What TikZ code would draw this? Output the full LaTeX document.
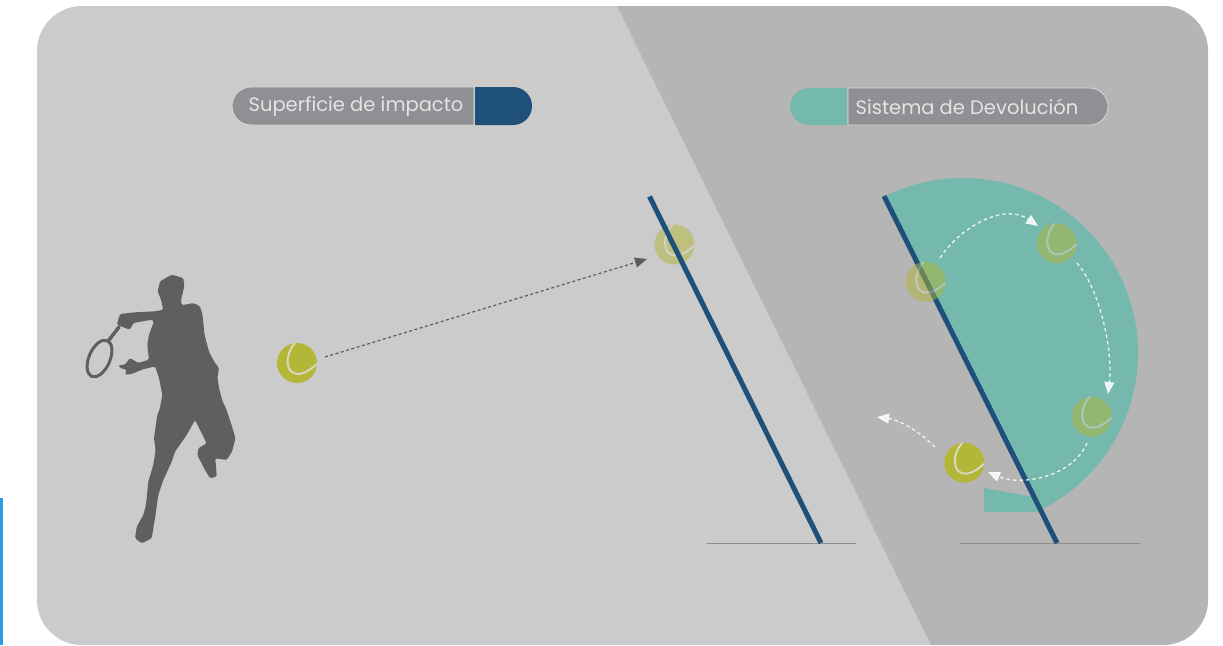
\documentclass[tikz,border=0pt]{standalone}
\usepackage{fontspec}
\setmainfont{Poppins}
\usetikzlibrary{arrows.meta}
\definecolor{bglight}{HTML}{CBCBCB}
\definecolor{bgdark}{HTML}{B5B5B5}
\definecolor{pillgray}{HTML}{8F9094}
\definecolor{pillrim}{HTML}{D9D9D9}
\definecolor{legendtext}{HTML}{E4E4E4}
\definecolor{navy}{HTML}{1E5079}
\definecolor{tealc}{HTML}{74B8AE}
\definecolor{ballc}{HTML}{B3B636}
\definecolor{seamc}{HTML}{D8DAC4}
\definecolor{playerc}{HTML}{5F5E60}
\definecolor{groundc}{HTML}{8D8D8D}
\definecolor{dashc}{HTML}{5C5C5C}
\definecolor{sidebar}{HTML}{2A9DE0}
\tikzset{
  pilltext/.style={font=\fontsize{19.5}{21}\selectfont, text=legendtext, inner sep=0pt},
  wall/.style={draw=navy, line width=5pt},
  groundline/.style={draw=groundc, line width=1.2pt},
  flight/.style={draw=dashc, line width=1.2pt, dash pattern=on 3pt off 2.5pt,
    -{Triangle[length=12pt,width=10pt]}},
  returnpath/.style={draw=white, opacity=0.85, line width=1.3pt,
    dash pattern=on 3.5pt off 3pt, -{Triangle[length=12pt,width=10pt]}},
  pics/tennisball/.style={code={
    \fill[ballc] (0,0) circle[radius=20];
    \draw[seamc, line width=1.9pt] (-2,-19.9) .. controls (-13,-8) and (-12,12) .. (2,11)
      .. controls (10,10) and (15,5) .. (19.9,1);
  }}
}
\begin{document}
\begin{tikzpicture}[x=1pt,y=-1pt]
\useasboundingbox (0,0) rectangle (1223,645);
\fill[white] (0,0) rectangle (1223,645);

% side bar
\fill[sidebar] (0,498) rectangle (3,645);

% panel with the two shaded halves
\begin{scope}
  \clip[rounded corners=45pt] (37,6) rectangle (1208,645);
  \fill[bglight] (37,6) rectangle (1208,645);
  \fill[bgdark] (614,0) -- (1223,0) -- (1223,645) -- (931,645) -- cycle;
\end{scope}

% legends
\fill[pillgray, rounded corners=19pt] (474,87) -- (232,87) -- (232,125) [sharp corners] -- (474,125) -- cycle;
\draw[pillrim, line width=0.8pt, rounded corners=19pt] (474,87) -- (232,87) -- (232,125) [sharp corners] -- (474,125) -- cycle;
\fill[navy, rounded corners=19pt] (475,87) -- (532,87) -- (532,125) [sharp corners] -- (475,125) -- cycle;
\node[pilltext] (lblimpact) at (356,107) {Superficie de impacto};

\fill[tealc, rounded corners=19pt] (847,88) -- (790,88) -- (790,125) [sharp corners] -- (847,125) -- cycle;
\fill[pillgray, rounded corners=18.5pt] (848,88) -- (1108,88) -- (1108,125) [sharp corners] -- (848,125) -- cycle;
\draw[pillrim, line width=0.8pt, rounded corners=18.5pt] (848,88) -- (1108,88) -- (1108,125) [sharp corners] -- (848,125) -- cycle;
\node[pilltext] (lblreturn) at (967,107) {Sistema de Devolución};

% player silhouette
\fill[playerc, rounded corners=1.5pt]
  (171.7,274.7) -- (183.3,278) -- (184.3,286.3) -- (181,299.7) -- (181.7,305.3)
  -- (193.3,303) -- (200,306.3) -- (202.5,314.7) -- (204.5,334.7) -- (209,351.7)
  -- (214,361.3) -- (219,368) -- (217.5,378) -- (219,388) -- (222.5,401.3)
  -- (226,408.3) -- (231,423.3) -- (235.5,438.3) -- (232,451.7) -- (226.7,460)
  -- (215,458.3) -- (216,465) -- (216.7,476.7) -- (210,478.3) -- (205,470)
  -- (197.3,455) -- (198.3,448.3) -- (206.7,443.3) -- (201.7,433.3) -- (195,420)
  -- (186.7,435) -- (175,451.7) -- (171.7,461.7) -- (163.3,480) -- (158.3,495)
  -- (155,518.3) -- (153.3,528.3) -- (151.7,538.3) -- (141.7,543.3) -- (135,538.3)
  -- (136.7,526.7) -- (143.3,515) -- (146,505) -- (148.3,481.7) -- (153.3,465)
  -- (155.7,450) -- (154,438.3) -- (157.3,415) -- (160,408) -- (162.3,394.7)
  -- (159,378) -- (155,366.3) -- (141.7,369.7) -- (131.7,374) -- (125,374.7)
  -- (126.7,369.7) -- (120,368) -- (118.3,365.3) -- (125,364.7) -- (130,358)
  -- (138.3,363) -- (149,359.7) -- (147.3,344.7) -- (149,334.7) -- (154,321.3)
  -- (151.7,319.7) -- (133.3,323) -- (130,329.7) -- (116.7,324.7) -- (120,314)
  -- (135,312.3) -- (155,311.3) -- (163.3,309.7) -- (161,299.7) -- (157.7,291.3)
  -- (160,281.3) -- cycle;
% racket
\draw[playerc, line width=3.5pt, line cap=round] (119,327) -- (109,340);
\draw[playerc, line width=3pt, shift={(99.5,358.5)}, rotate=66.4] (0,0) ellipse [x radius=19.5, y radius=10.5];

% impact surface
\coordinate (w1top) at (649.5,196.5);
\coordinate (w1base) at (821,543);
\draw[groundline] (707,543.5) -- (856,543.5);
\pic at (297,363) {tennisball};
\coordinate (hitball) at (297,363);
\begin{scope}[transparency group, opacity=0.5]
  \pic at (674.5,244.5) {tennisball};
\end{scope}
\coordinate (hitwall) at (674.5,244.5);
\draw[wall] (w1top) -- (w1base);
\coordinate (flightstart) at (325,357);
\coordinate (flightend) at (647,259);
\draw[flight] (flightstart) -- (flightend);

% return system
\coordinate (w2top) at (884,196);
\coordinate (w2base) at (1057,543);
\draw[groundline] (960,543.5) -- (1140,543.5);
\begin{scope}
  \clip (861.1,150) -- (1200,150) -- (1200,560) -- (1065.5,560) -- cycle;
  \fill[tealc] (963,353) circle[radius=175];
\end{scope}
\fill[tealc] (984,488) -- (1034,497) -- (1044,512) -- (984,512) -- cycle;
\draw[wall] (w2top) -- (w2base);

\begin{scope}[transparency group, opacity=0.5]
  \pic at (925.7,281.7) {tennisball};
\end{scope}
\begin{scope}[transparency group, opacity=0.5]
  \pic at (1056.7,243.3) {tennisball};
\end{scope}
\begin{scope}[transparency group, opacity=0.5]
  \pic at (1091.7,416.7) {tennisball};
\end{scope}
\pic at (964.3,462.7) {tennisball};

\coordinate (r1s) at (940,258);
\coordinate (r1e) at (1038,226);
\coordinate (r2s) at (1077,263);
\coordinate (r2e) at (1108,394);
\coordinate (r3s) at (1087,443);
\coordinate (r3e) at (988,472);
\coordinate (r4s) at (935,447);
\coordinate (r4e) at (877,417);
\draw[returnpath] (r1s) .. controls (962,225) and (1005,203) .. (r1e);
\draw[returnpath] (r2s) .. controls (1100,290) and (1113,350) .. (r2e);
\draw[returnpath] (r3s) .. controls (1072,478) and (1020,486) .. (r3e);
\draw[returnpath] (r4s) .. controls (920,432) and (900,420) .. (r4e);
\end{tikzpicture}
\end{document}
